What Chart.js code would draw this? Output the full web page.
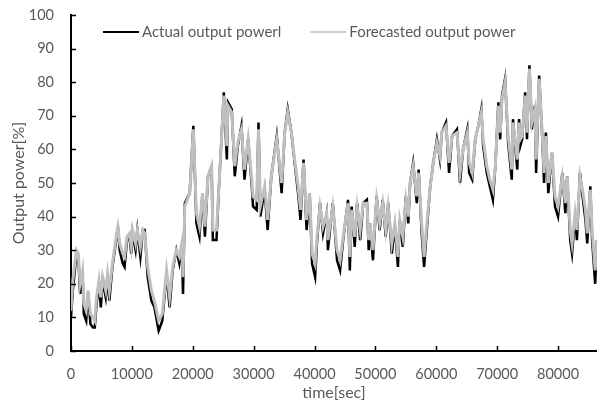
<!DOCTYPE html>
<html>
<head>
<meta charset="utf-8">
<script src="https://cdn.jsdelivr.net/npm/chart.js@4/dist/chart.umd.min.js"></script>
<style>
  html, body { margin: 0; padding: 0; background: #fff; }
  #wrap { width: 597px; height: 406px; position: relative; }
</style>
</head>
<body>
<div id="wrap"><canvas id="c"></canvas></div>
<script>
// time stamps [sec]
const timeSec = [
  0, 300, 900, 1200, 1500, 1900, 2100, 2500, 2800, 3200, 3600, 3900, 4200, 4600, 4900, 5200, 5700, 6000, 6300, 6800,
  7500, 7700, 8000, 8500, 8800, 9200, 9600, 9900, 10100, 10600, 10900, 11400, 11800, 12100, 12600, 13200, 13700, 14400, 15000, 15700,
  16200, 16700, 17300, 17800, 18200, 18400, 18700, 19500, 20100, 20600, 21100, 21600, 22000, 22500, 23100, 23300, 23900, 24300, 24600, 25100,
  25600, 25800, 26400, 26900, 27400, 28000, 28500, 29100, 29700, 29900, 30500, 30800, 31100, 31800, 32300, 32900, 33800, 34600, 35100, 35600,
  36200, 36800, 37300, 37700, 38200, 38700, 39200, 39600, 40100, 40400, 40900, 41400, 42000, 42200, 43000, 43700, 44200, 44700, 45500, 45800,
  46100, 46600, 47000, 47500, 48000, 48600, 48900, 49100, 49600, 50200, 50700, 51200, 51700, 52100, 52700, 53200, 53700, 54000, 54500, 55000,
  55400, 55700, 56200, 56800, 57100, 57600, 58000, 58400, 59000, 59500, 60100, 60600, 60900, 61600, 62100, 62600, 63400, 63900, 64400, 65100,
  65400, 65900, 66400, 66900, 67400, 67700, 68300, 68800, 69300, 69700, 70200, 70500, 70800, 71300, 71800, 72400, 72600, 73300, 73600, 73800,
  74100, 74600, 74900, 75300, 75700, 76200, 76400, 76900, 77400, 77700, 78000, 78400, 79000, 79500, 80000, 80700, 81200, 81500, 82000, 82300,
  82800, 83100, 83600, 84100, 84500, 84800, 85300, 85600, 86100, 86400
];

// actual output power [%]
const actualPower = [
  10, 18, 29, 28, 17, 23, 11, 9, 17, 8, 7, 7, 14, 20, 13, 21, 16, 22, 15, 25,
  34, 37, 30, 26, 25, 33, 34, 29, 35, 30, 36, 28, 36, 36, 22, 15, 13, 6, 9, 23,
  13, 24, 30, 26, 31, 17, 44, 47, 67, 38, 34, 47, 34, 52, 55, 33, 33, 49, 59, 77,
  57, 74, 72, 52, 61, 67, 51, 63, 49, 43, 42, 68, 40, 48, 36, 52, 64, 47, 65, 72,
  65, 55, 47, 39, 57, 36, 47, 26, 22, 32, 44, 35, 41, 30, 44, 27, 24, 33, 45, 24,
  43, 31, 44, 33, 44, 45, 30, 38, 27, 46, 36, 45, 34, 44, 29, 37, 25, 39, 31, 46,
  38, 50, 56, 44, 54, 35, 25, 35, 49, 56, 63, 57, 65, 68, 53, 64, 66, 50, 60, 66,
  53, 51, 63, 67, 72, 61, 53, 49, 45, 55, 74, 63, 76, 81, 62, 51, 69, 54, 69, 61,
  63, 77, 63, 85, 66, 73, 53, 82, 64, 50, 65, 47, 59, 43, 40, 53, 41, 52, 33, 29,
  40, 33, 53, 45, 39, 32, 49, 33, 20, 33
];

// forecasted output power [%]
const forecastPower = [
  12, 21, 30, 29, 20, 24, 14, 12, 18, 11, 10, 9, 16, 21, 16, 22, 18, 23, 18, 26,
  35, 37, 32, 29, 28, 34, 35, 31, 36, 32, 36, 31, 36, 35, 25, 18, 15, 9, 11, 24,
  16, 25, 30, 28, 32, 22, 43, 47, 66, 41, 37, 47, 37, 52, 55, 36, 36, 49, 59, 76,
  61, 73, 71, 55, 62, 66, 54, 63, 51, 46, 45, 66, 43, 49, 39, 52, 63, 50, 65, 71,
  65, 56, 49, 42, 56, 39, 47, 29, 26, 34, 43, 37, 41, 33, 43, 30, 27, 34, 44, 28,
  42, 34, 43, 36, 44, 44, 33, 38, 30, 45, 38, 44, 36, 43, 32, 38, 28, 39, 34, 45,
  40, 50, 55, 46, 53, 38, 28, 37, 49, 56, 62, 58, 65, 67, 56, 64, 65, 53, 60, 65,
  56, 53, 63, 67, 71, 63, 55, 51, 48, 55, 73, 65, 75, 80, 64, 54, 68, 57, 68, 63,
  64, 76, 65, 84, 68, 72, 57, 81, 65, 53, 64, 50, 59, 46, 43, 52, 44, 52, 36, 32,
  41, 36, 52, 47, 42, 35, 48, 36, 24, 33
];

const xTicks = [0, 10000, 20000, 30000, 40000, 50000, 60000, 70000, 80000];
const yTicks = [0, 10, 20, 30, 40, 50, 60, 70, 80, 90, 100];

const FONT = 'Lato, "Open Sans", sans-serif';
const TEXT = '#595959';

function pts(vals) {
  return timeSec.map((t, i) => ({ x: t, y: vals[i] }));
}

// small inward tick marks on both axes
const innerTicks = {
  id: 'innerTicks',
  afterDraw(chart) {
    const ctx = chart.ctx, a = chart.chartArea;
    const xs = chart.scales.x, ys = chart.scales.y;
    ctx.save();
    ctx.strokeStyle = '#000';
    ctx.lineWidth = 1.5;
    ctx.beginPath();
    xTicks.forEach(v => {
      const px = Math.round(xs.getPixelForValue(v)) + 0.5;
      ctx.moveTo(px, a.bottom);
      ctx.lineTo(px, a.bottom - 5);
    });
    yTicks.forEach(v => {
      const py = Math.round(ys.getPixelForValue(v)) + 0.5;
      ctx.moveTo(a.left, py);
      ctx.lineTo(a.left + 5, py);
    });
    ctx.stroke();
    ctx.restore();
  }
};

// legend drawn inside the plot area, line samples like the original
const insideLegend = {
  id: 'insideLegend',
  afterDraw(chart) {
    const ctx = chart.ctx, a = chart.chartArea;
    let x = a.left + 32;
    const y = a.top + 17;
    ctx.save();
    ctx.font = '15px ' + FONT;
    ctx.textBaseline = 'middle';
    chart.data.datasets.forEach(ds => {
      ctx.strokeStyle = ds.borderColor;
      ctx.lineWidth = ds.legendWidth;
      ctx.beginPath();
      ctx.moveTo(x, y);
      ctx.lineTo(x + 36, y);
      ctx.stroke();
      x += 39;
      ctx.fillStyle = TEXT;
      ctx.fillText(ds.label, x, y);
      x += ctx.measureText(ds.label).width + 29;
    });
    ctx.restore();
  }
};

new Chart(document.getElementById('c'), {
  type: 'line',
  data: {
    datasets: [
      {
        label: 'Actual output powerl',
        data: pts(actualPower),
        borderColor: '#000000',
        borderWidth: 2.5,
        legendWidth: 2,
        pointRadius: 0,
        tension: 0,
        order: 1
      },
      {
        label: 'Forecasted output power',
        data: pts(forecastPower),
        borderColor: '#bfbfbf',
        borderWidth: 3,
        legendWidth: 1.5,
        pointRadius: 0,
        tension: 0,
        order: 0
      }
    ]
  },
  options: {
    responsive: true,
    maintainAspectRatio: false,
    animation: false,
    layout: { padding: { top: 15, right: 0, left: 0, bottom: 0 } },
    plugins: {
      legend: { display: false },
      tooltip: { enabled: false }
    },
    scales: {
      x: {
        type: 'linear',
        min: 0,
        max: 86400,
        afterBuildTicks(s) { s.ticks = xTicks.map(v => ({ value: v })); },
        afterFit(s) { s.height = 55; s.paddingRight = 0; s.paddingLeft = 0; },
        ticks: {
          autoSkip: false,
          color: TEXT,
          font: { family: FONT, size: 14.5 },
          padding: 15,
          maxRotation: 0,
          callback: v => String(v)
        },
        grid: { display: true, drawOnChartArea: false, drawTicks: false },
        border: { color: '#000', width: 2 },
        title: {
          display: true,
          text: 'time[sec]',
          color: TEXT,
          font: { family: FONT, size: 16 },
          padding: { top: 0, bottom: 4 }
        }
      },
      y: {
        min: 0,
        max: 100,
        afterBuildTicks(s) { s.ticks = yTicks.map(v => ({ value: v })); },
        afterFit(s) { s.width = 71; s.paddingTop = 0; s.paddingBottom = 0; },
        ticks: {
          autoSkip: false,
          color: TEXT,
          font: { family: FONT, size: 14.5 },
          padding: 17,
          callback: v => String(v)
        },
        grid: { display: true, drawOnChartArea: false, drawTicks: false },
        border: { color: '#000', width: 2 },
        title: {
          display: true,
          text: 'Output power[%]',
          color: TEXT,
          font: { family: FONT, size: 16 },
          padding: { top: 9, bottom: 0 }
        }
      }
    }
  },
  plugins: [innerTicks, insideLegend]
});
</script>
</body>
</html>
